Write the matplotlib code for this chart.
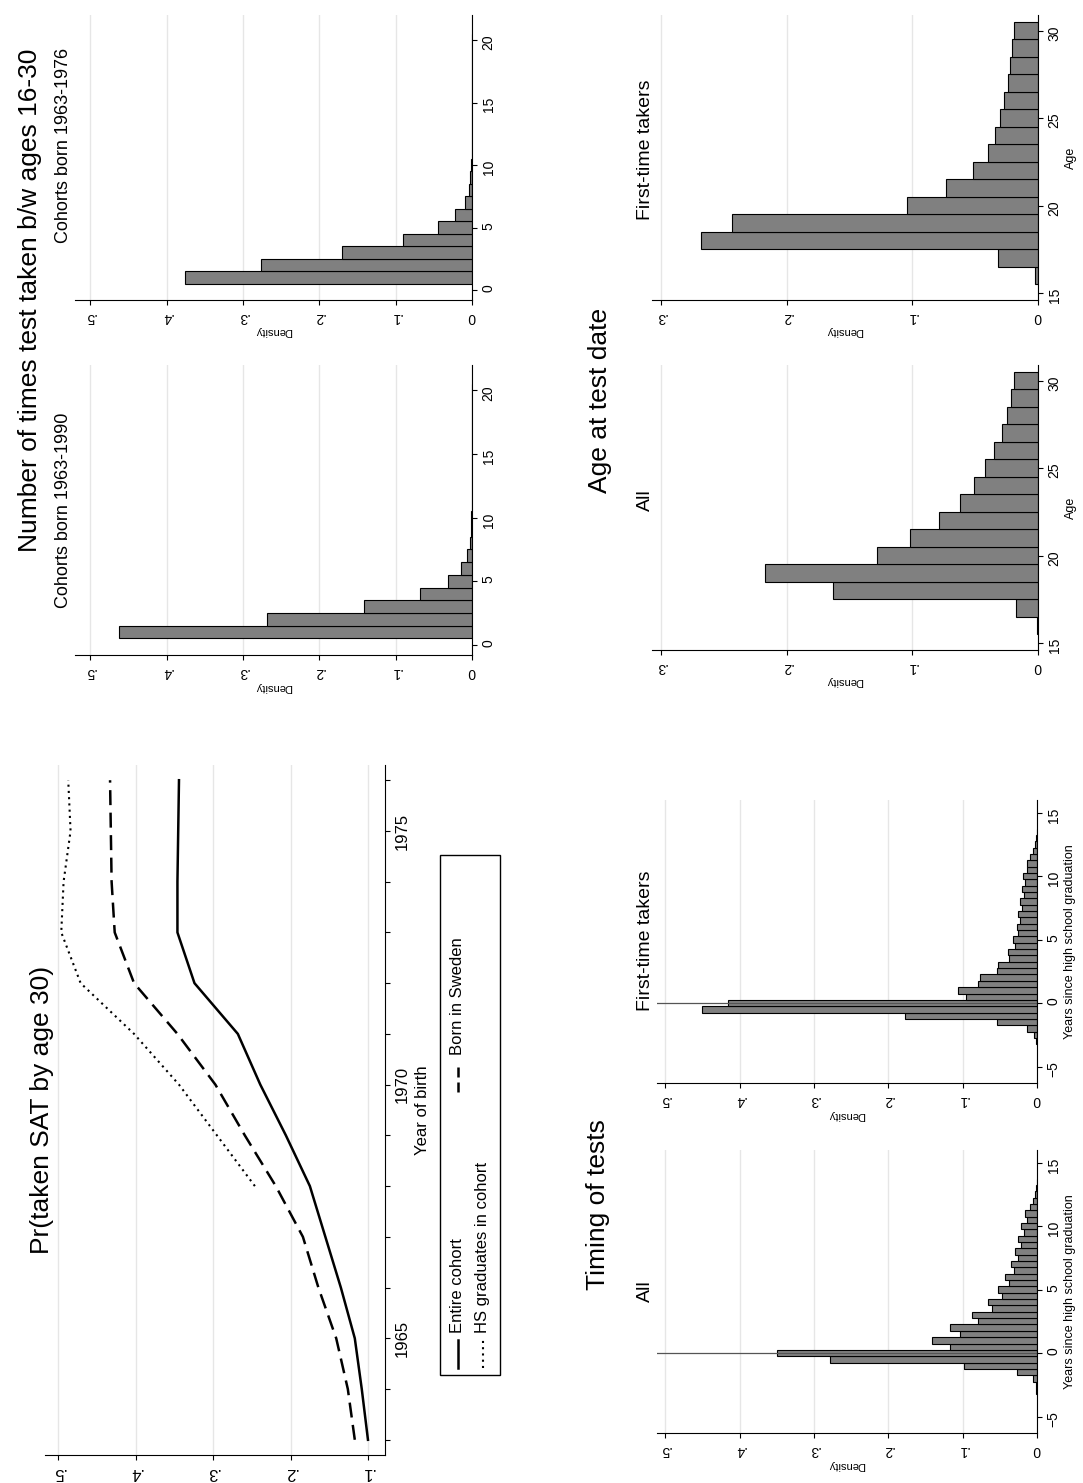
import matplotlib
matplotlib.use('Agg')
import matplotlib.pyplot as plt
from matplotlib.lines import Line2D
from matplotlib.patches import Rectangle
import numpy as np

plt.rcParams['font.family'] = ['Liberation Sans', 'DejaVu Sans']

W, H = 1083, 1483
BAR = '#808080'
GRID = '#e6e6e6'

# ── data ──────────────────────────────────────────────────────────────────────
YEARS = list(range(1963, 1977))
ENTIRE = [.100, .108, .117, .135, .155, .175, .206, .239, .268, .324, .346, .346, .345, .344]
SWEDEN = [.117, .126, .141, .164, .184, .219, .259, .297, .346, .402, .427, .431, .432, .433]
HS_YEARS = list(range(1968, 1977))
HS_GRAD = [.246, .295, .344, .402, .471, .496, .493, .484, .487]

TIMES = list(range(1, 21))
TIMES_90 = [.463, .269, .141, .068, .031, .014, .006, .003, .0015, .001,
            .0006, .0005, .0004, .0003, .0003, .0002, .0002, .0002, .0001, .0001]
TIMES_76 = [.376, .277, .170, .091, .045, .022, .009, .004, .002, .001,
            .0006, .0005, .0004, .0003, .0003, .0002, .0002, .0002, .0001, .0001]

AGES = list(range(16, 31))
AGE_ALL = [.001, .0175, .163, .217, .128, .102, .079, .062, .051, .042, .035, .029, .025, .0215, .019]
AGE_FIRST = [.002, .0315, .268, .243, .104, .073, .052, .040, .034, .030, .027, .024, .022, .021, .019]

GRAD_YRS = [-3.0, -2.5, -2.0, -1.5, -1.0, -0.5, 0.0, 0.5, 1.0, 1.5, 2.0, 2.5, 3.0, 3.5, 4.0,
            4.5, 5.0, 5.5, 6.0, 6.5, 7.0, 7.5, 8.0, 8.5, 9.0, 9.5, 10.0, 10.5, 11.0, 11.5,
            12.0, 12.5, 13.0, 13.5]
GRAD_ALL = [.001, .002, .005, .027, .098, .278, .350, .117, .141, .103, .117, .079, .087, .060, .066,
            .047, .053, .038, .043, .031, .035, .025, .029, .021, .026, .018, .022, .013, .016, .010,
            .005, .003, .001, .0005]
GRAD_FIRST = [.001, .004, .013, .054, .178, .450, .415, .095, .106, .079, .077, .054, .052, .038, .039,
              .030, .032, .025, .027, .023, .025, .020, .023, .017, .020, .016, .019, .013, .014, .009,
              .005, .003, .001, .0005]


def px_axes(fig, x0, y0, x1, y1):
    return fig.add_axes([x0 / W, 1 - y1 / H, (x1 - x0) / W, (y1 - y0) / H])


def ftext(fig, x, y, s, size, rot=90, **kw):
    fig.text(x / W, 1 - y / H, s, fontsize=size, rotation=rot, ha='center', va='center', **kw)


def style(ax, vticks, vlabels, vmax, catlabel=None):
    # value axis runs along bottom, inverted (0 on the right)
    ax.set_xlim(vmax, 0)
    ax.set_xticks(vticks)
    ax.set_xticklabels(vlabels, rotation=180, fontsize=10)
    ax.set_xlabel('Density', rotation=180, fontsize=8, labelpad=2)
    ax.yaxis.tick_right()
    ax.yaxis.set_label_position('right')
    for s in ('top', 'left'):
        ax.spines[s].set_visible(False)
    ax.grid(axis='x', color=GRID, linewidth=1)
    ax.set_axisbelow(True)
    ax.tick_params(axis='y', labelrotation=90, labelsize=10)
    if catlabel:
        ax.set_ylabel(catlabel, rotation=90, fontsize=9, labelpad=2)


fig = plt.figure(figsize=(W / 100, H / 100), dpi=100)

# ── Pr(taken SAT by age 30) ─────────────────────────────────────────────────
ax = px_axes(fig, 45, 765, 385, 1455)
ax.plot(ENTIRE, YEARS, color='black', lw=1.8)
ax.plot(SWEDEN, YEARS, color='black', lw=1.8, ls=(0, (6, 3)))
ax.plot(HS_GRAD, HS_YEARS, color='black', lw=1.5, ls=(0, (1, 2)))
ax.set_xlim(.517, .078)
ax.set_ylim(1962.7, 1976.3)
ax.set_xticks([.1, .2, .3, .4, .5])
ax.set_xticklabels(['.1', '.2', '.3', '.4', '.5'], rotation=180, fontsize=12)
ax.yaxis.tick_right()
ax.yaxis.set_label_position('right')
ax.set_yticks(YEARS)
ax.set_yticklabels([str(y) if y % 5 == 0 else '' for y in YEARS], rotation=90, fontsize=12, va='center')
ax.set_ylabel('Year of birth', rotation=90, fontsize=12, labelpad=4)
for s in ('top', 'left'):
    ax.spines[s].set_visible(False)
ax.grid(axis='x', color=GRID, linewidth=1)
ax.set_axisbelow(True)
ftext(fig, 42, 1110, 'Pr(taken SAT by age 30)', 19)

# legend, drawn by hand because it is rotated
fig.patches.append(Rectangle((440 / W, 1 - 1375 / H), 60 / W, 520 / H, transform=fig.transFigure,
                             fill=False, edgecolor='black', lw=1))
for xp, y0, y1, ls, lw in [(458, 1368, 1340, '-', 1.8), (483, 1368, 1340, (0, (1, 2)), 1.5),
                           (458, 1092, 1062, (0, (4, 2)), 1.8)]:
    fig.lines.append(Line2D([xp / W, xp / W], [1 - y0 / H, 1 - y1 / H], transform=fig.transFigure,
                            color='black', ls=ls, lw=lw))
for xp, yp, s in [(458, 1333, 'Entire cohort'), (483, 1333, 'HS graduates in cohort'),
                  (458, 1055, 'Born in Sweden')]:
    fig.text(xp / W, 1 - yp / H, s, rotation=90, ha='center', va='bottom', fontsize=12)

# ── Number of times test taken ──────────────────────────────────────────────
vt5 = [0, .1, .2, .3, .4, .5]
vl5 = ['0', '.1', '.2', '.3', '.4', '.5']
for (y0, y1, vals, ttl, ty) in [(365, 655, TIMES_90, 'Cohorts born 1963-1990', 510),
                                (15, 300, TIMES_76, 'Cohorts born 1963-1976', 145)]:
    ax = px_axes(fig, 75, y0, 472, y1)
    ax.barh(TIMES, vals, height=1, color=BAR, edgecolor='black', lw=0.8)
    style(ax, vt5, vl5, .52)
    ax.set_ylim(-0.8, 22)
    ax.set_yticks([0, 5, 10, 15, 20])
    ftext(fig, 63, ty, ttl, 13)
ftext(fig, 30, 300, 'Number of times test taken b/w ages 16-30', 19)

# ── Age at test date ────────────────────────────────────────────────────────
vt3 = [0, .1, .2, .3]
vl3 = ['0', '.1', '.2', '.3']
for (y0, y1, vals, ttl, ty) in [(365, 650, AGE_ALL, 'All', 500),
                                (15, 300, AGE_FIRST, 'First-time takers', 150)]:
    ax = px_axes(fig, 652, y0, 1038, y1)
    ax.barh(AGES, vals, height=1, color=BAR, edgecolor='black', lw=0.8)
    style(ax, vt3, vl3, .307, 'Age')
    ax.set_ylim(14.6, 30.9)
    ax.set_yticks([15, 20, 25, 30])
    ftext(fig, 645, ty, ttl, 14)
ftext(fig, 600, 400, 'Age at test date', 19)

# ── Timing of tests ─────────────────────────────────────────────────────────
for (y0, y1, vals, ttl, ty) in [(1150, 1433, GRAD_ALL, 'All', 1291),
                                (800, 1083, GRAD_FIRST, 'First-time takers', 941)]:
    ax = px_axes(fig, 657, y0, 1037, y1)
    ax.barh(GRAD_YRS, vals, height=0.5, color=BAR, edgecolor='black', lw=0.8)
    ax.axhline(0, color='#555555', lw=0.9)
    style(ax, vt5, vl5, .511, 'Years since high school graduation')
    ax.set_ylim(-6.3, 16)
    ax.set_yticks([-5, 0, 5, 10, 15])
    ftext(fig, 645, ty, ttl, 14)
ftext(fig, 598, 1205, 'Timing of tests', 19)

fig.savefig('out.png', dpi=100)
